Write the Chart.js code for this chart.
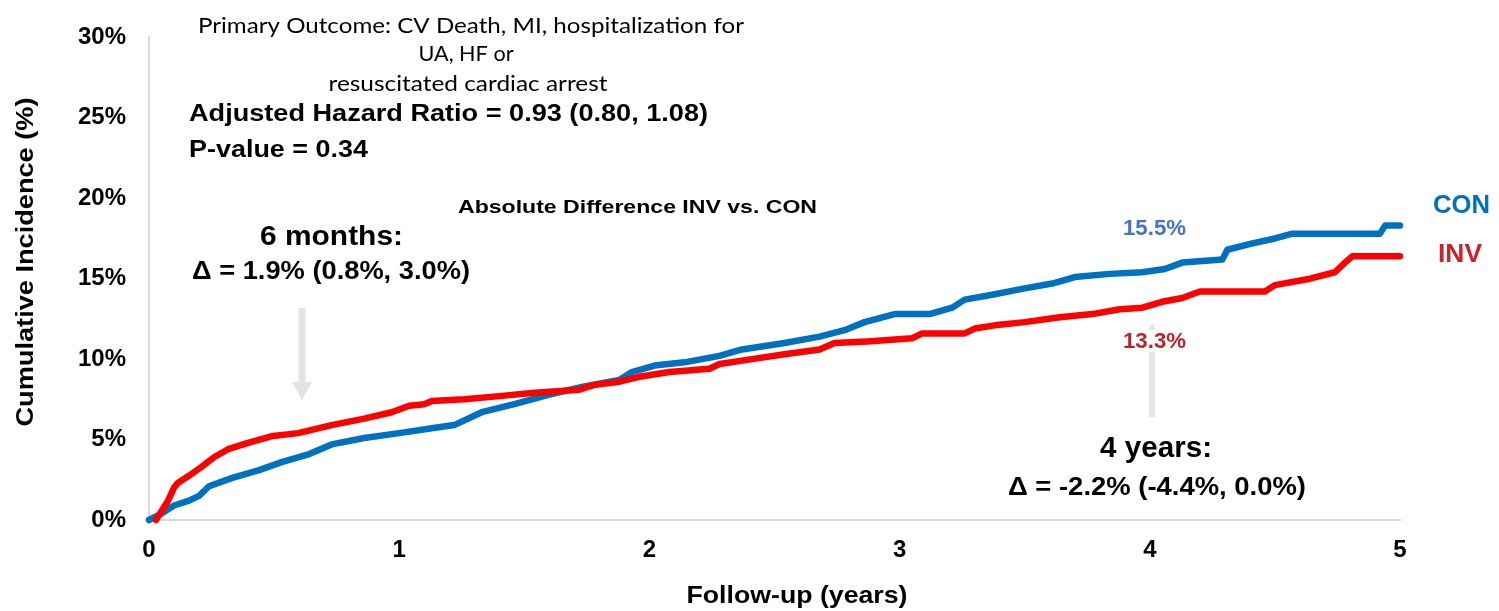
<!DOCTYPE html>
<html>
<head>
<meta charset="utf-8">
<script src="https://cdn.jsdelivr.net/npm/chart.js@4/dist/chart.umd.min.js"></script>
<style>
  html, body { margin: 0; padding: 0; background: #fff; }
  canvas { display: block; }
</style>
</head>
<body>
<canvas id="c" width="1499" height="611"></canvas>
<script>
// ---- data (years, cumulative incidence %) ----
const conYears = [0.0,0.05,0.1,0.16,0.2,0.24,0.33,0.44,0.53,0.64,0.73,0.86,1.0,1.13,1.22,1.33,1.46,1.6,1.74,1.88,1.93,2.02,2.14,2.28,2.37,2.54,2.68,2.78,2.86,2.98,3.12,3.21,3.26,3.37,3.5,3.61,3.7,3.84,3.97,4.06,4.13,4.29,4.31,4.41,4.5,4.57,4.92,4.94,5.0];
const conValues = [0,0.4,0.9,1.2,1.5,2.1,2.6,3.1,3.6,4.1,4.7,5.1,5.4,5.7,5.9,6.7,7.2,7.8,8.3,8.7,9.2,9.6,9.8,10.2,10.6,11.0,11.4,11.8,12.3,12.8,12.8,13.2,13.7,14.0,14.4,14.7,15.1,15.3,15.4,15.6,16.0,16.2,16.8,17.2,17.5,17.8,17.8,18.3,18.3];
const invYears = [0.028,0.076,0.1,0.115,0.155,0.21,0.26,0.316,0.396,0.488,0.596,0.73,0.86,0.97,1.04,1.1,1.13,1.26,1.4,1.53,1.72,1.78,1.88,1.96,2.08,2.24,2.28,2.41,2.54,2.68,2.74,2.87,3.05,3.09,3.26,3.3,3.38,3.5,3.64,3.77,3.88,3.97,4.06,4.13,4.2,4.46,4.5,4.64,4.74,4.78,4.81,5.0];
const invValues = [0,1.2,2.0,2.3,2.7,3.3,3.9,4.4,4.8,5.2,5.4,5.9,6.3,6.7,7.1,7.2,7.4,7.5,7.7,7.9,8.1,8.4,8.6,8.9,9.2,9.4,9.7,10.0,10.3,10.6,11.0,11.1,11.3,11.6,11.6,11.9,12.1,12.3,12.6,12.8,13.1,13.2,13.6,13.8,14.2,14.2,14.6,15.0,15.4,16.0,16.4,16.4];
const seriesNames = ['INV', 'CON'];
const xTicks = [0, 1, 2, 3, 4, 5];
const yTicks = [0, 5, 10, 15, 20, 25, 30];
const xTitle = 'Follow-up (years)';
const yTitle = 'Cumulative Incidence (%)';
const titleLines = ['Primary Outcome: CV Death, MI, hospitalization for', 'UA, HF or', 'resuscitated cardiac arrest'];
const statLines = ['Adjusted Hazard Ratio = 0.93 (0.80, 1.08)', 'P-value = 0.34'];
const diffHeader = 'Absolute Difference INV vs. CON';
const diff6m = ['6 months:', 'Δ = 1.9% (0.8%, 3.0%)'];
const diff4y = ['4 years:', 'Δ = -2.2% (-4.4%, 0.0%)'];
const at4yLabels = ['15.5%', '13.3%'];

const toPts = (xs, ys) => xs.map((x, i) => ({ x: x, y: ys[i] }));

const SANS = '"Liberation Sans", Arial, sans-serif';

function fitText(ctx, text, x, y, font, color, targetW, align, rot) {
  ctx.save();
  ctx.font = font;
  const w = ctx.measureText(text).width;
  const sx = targetW ? targetW / w : 1;
  ctx.translate(x, y);
  if (rot) ctx.rotate(rot);
  ctx.scale(sx, 1);
  ctx.fillStyle = color;
  ctx.textAlign = align || 'left';
  ctx.textBaseline = 'alphabetic';
  ctx.fillText(text, 0, 0);
  ctx.restore();
}

function arrow(ctx, x, yTail, yTip, shaftW, headW, headL, color) {
  const dir = yTip > yTail ? 1 : -1;
  ctx.save();
  ctx.fillStyle = color;
  const yBase = yTip - dir * headL;
  ctx.fillRect(x - shaftW / 2, Math.min(yTail, yBase), shaftW, Math.abs(yBase - yTail));
  ctx.beginPath();
  ctx.moveTo(x - headW / 2, yBase);
  ctx.lineTo(x + headW / 2, yBase);
  ctx.lineTo(x, yTip);
  ctx.closePath();
  ctx.fill();
  ctx.restore();
}

const annot = {
  id: 'annot',
  afterDraw(chart) {
    const ctx = chart.ctx;
    // axis titles
    fitText(ctx, xTitle, 797, 603, 'bold 24px ' + SANS, '#000', 221, 'center');
    fitText(ctx, yTitle, 33, 262, 'bold 24px ' + SANS, '#000', 329, 'center', -Math.PI / 2);

    // outcome description
    const lato = 'Lato, "Open Sans", sans-serif';
    fitText(ctx, titleLines[0], 471, 33, '21.5px ' + lato, '#000', 546, 'center');
    fitText(ctx, titleLines[1], 466, 61, '21.5px ' + lato, '#000', 95, 'center');
    fitText(ctx, titleLines[2], 468, 91, '21.5px ' + lato, '#000', 279, 'center');
    fitText(ctx, statLines[0], 189, 121, 'bold 23px ' + SANS, '#000', 519, 'left');
    fitText(ctx, statLines[1], 189, 157, 'bold 23px ' + SANS, '#000', 179, 'left');

    fitText(ctx, diffHeader, 458, 213, 'bold 19px ' + SANS, '#000', 359, 'left');
    fitText(ctx, diff6m[0], 260, 245, 'bold 27px ' + SANS, '#000', 143, 'left');
    fitText(ctx, diff6m[1], 192, 279, 'bold 26px ' + SANS, '#000', 278, 'left');

    // arrows
    arrow(ctx, 302, 308, 400, 7, 20, 18, '#e4e4e4');
    arrow(ctx, 1152, 417, 323, 6, 20, 18, '#e4e4e4');

    // 4-year values
    ctx.save();
    ctx.fillStyle = '#fff';
    ctx.fillRect(1118, 330, 74, 22);
    ctx.restore();
    fitText(ctx, at4yLabels[0], 1123, 235, 'bold 22px ' + SANS, '#4472C4', 63, 'left');
    fitText(ctx, at4yLabels[1], 1123, 348, 'bold 22px ' + SANS, '#C0202A', 63, 'left');

    fitText(ctx, diff4y[0], 1100, 457, 'bold 30px ' + SANS, '#000', 112, 'left');
    fitText(ctx, diff4y[1], 1008, 495, 'bold 26px ' + SANS, '#000', 298, 'left');

    // series labels
    fitText(ctx, seriesNames[1], 1433, 213, 'bold 26px ' + SANS, '#0070C0', 57, 'left');
    fitText(ctx, seriesNames[0], 1438, 262, 'bold 26px ' + SANS, '#CC2229', 44, 'left');
  }
};

new Chart(document.getElementById('c'), {
  type: 'line',
  data: {
    datasets: [
      { label: seriesNames[0], data: toPts(invYears, invValues), borderColor: '#FF0000', borderWidth: 6.5, pointRadius: 0, tension: 0, fill: false, clip: false, borderCapStyle: 'round', borderJoinStyle: 'round' },
      { label: seriesNames[1], data: toPts(conYears, conValues), borderColor: '#0070C0', borderWidth: 6.5, pointRadius: 0, tension: 0, fill: false, clip: false, borderCapStyle: 'round', borderJoinStyle: 'round' }
    ]
  },
  options: {
    responsive: false,
    animation: false,
    devicePixelRatio: 1,
    parsing: false,
    layout: { padding: { top: 19, right: 99, left: 0, bottom: 0 } },
    plugins: { legend: { display: false }, tooltip: { enabled: false } },
    scales: {
      x: {
        type: 'linear',
        min: xTicks[0],
        max: xTicks[xTicks.length - 1],
        afterBuildTicks: (s) => { s.ticks = xTicks.map(v => ({ value: v })); },
        afterFit: (s) => { s.height = 91; },
        ticks: { font: { family: SANS, size: 24, weight: 'bold' }, color: '#000', padding: 16, maxRotation: 0 },
        grid: { display: false, drawTicks: false },
        border: { display: true, color: '#d9d9d9', width: 2 }
      },
      y: {
        min: yTicks[0],
        max: yTicks[yTicks.length - 1],
        afterBuildTicks: (s) => { s.ticks = yTicks.map(v => ({ value: v })); },
        afterFit: (s) => { s.width = 149; },
        ticks: { font: { family: SANS, size: 24, weight: 'bold' }, color: '#000', padding: 23, callback: (v) => v + '%' },
        grid: { display: false, drawTicks: false },
        border: { display: true, color: '#d9d9d9', width: 2 }
      }
    }
  },
  plugins: [annot]
});
</script>
</body>
</html>
